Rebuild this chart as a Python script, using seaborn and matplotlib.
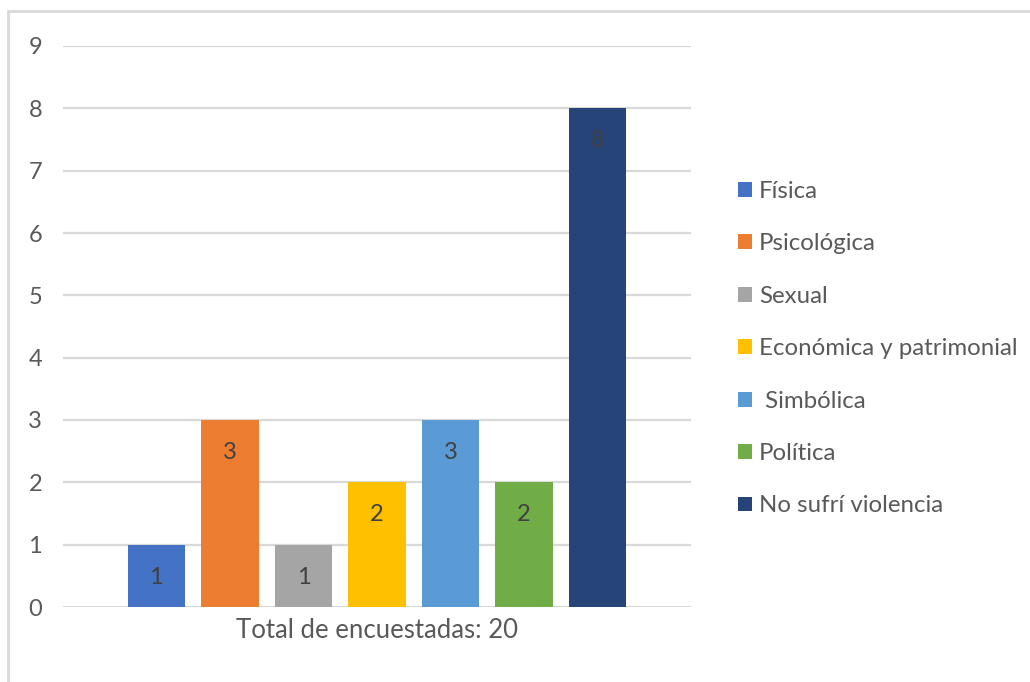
import pandas as pd
import matplotlib.pyplot as plt
import seaborn as sns
from matplotlib.patches import Rectangle

tipos = ['Física', 'Psicológica', 'Sexual', 'Económica y patrimonial',
         ' Simbólica', 'Política', 'No sufrí violencia']
cantidades = [1, 3, 1, 2, 3, 2, 8]
grupo = 'Total de encuestadas: 20'
colores = ['#4472C4', '#ED7D31', '#A5A5A5', '#FFC000', '#5B9BD5', '#70AD47', '#264478']

df = pd.DataFrame({'grupo': [grupo] * len(tipos), 'tipo': tipos, 'n': cantidades})

sns.set_theme(style='white')
plt.rcParams['font.family'] = ['Lato', 'DejaVu Sans']

fig = plt.figure(figsize=(10.3, 6.82), dpi=100)
ax = fig.add_axes([63 / 1030, 1 - 607 / 682, 628 / 1030, 561 / 682])

sns.barplot(data=df, x='grupo', y='n', hue='tipo', palette=colores,
            width=0.82, gap=0.22, saturation=1, linewidth=0, ax=ax)

# etiquetas dentro de la barra, cerca del extremo
for c in ax.containers:
    ax.bar_label(c, padding=-31, color='#404040', fontsize=17)

ax.set_ylim(0, 9)
ax.set_xlim(-0.5, 0.5)
ax.set_yticks(range(0, 10))
ax.grid(axis='y', color='#D9D9D9', linewidth=1.6)
ax.set_axisbelow(True)
sns.despine(ax=ax, left=True, bottom=True)
ax.tick_params(axis='y', length=0, pad=15, labelsize=17, labelcolor='#595959')
ax.tick_params(axis='x', length=0, pad=8, labelsize=18.5, labelcolor='#595959')
ax.set_xlabel('')
ax.set_ylabel('')

ax.legend(loc='upper left', bbox_to_anchor=(728 / 1030, 1 - 171 / 682),
          bbox_transform=fig.transFigure, frameon=False, fontsize=17.3,
          labelspacing=1.31, handlelength=0.58, handleheight=0.58,
          handletextpad=0.3, labelcolor='#595959', borderaxespad=0)

fig.patches.append(Rectangle((8 / 1030, -0.1), 1.1, 1.1 - 11 / 682, transform=fig.transFigure,
                             fill=False, edgecolor='#D9D9D9', linewidth=2))

fig.savefig('out.png', dpi=100)
